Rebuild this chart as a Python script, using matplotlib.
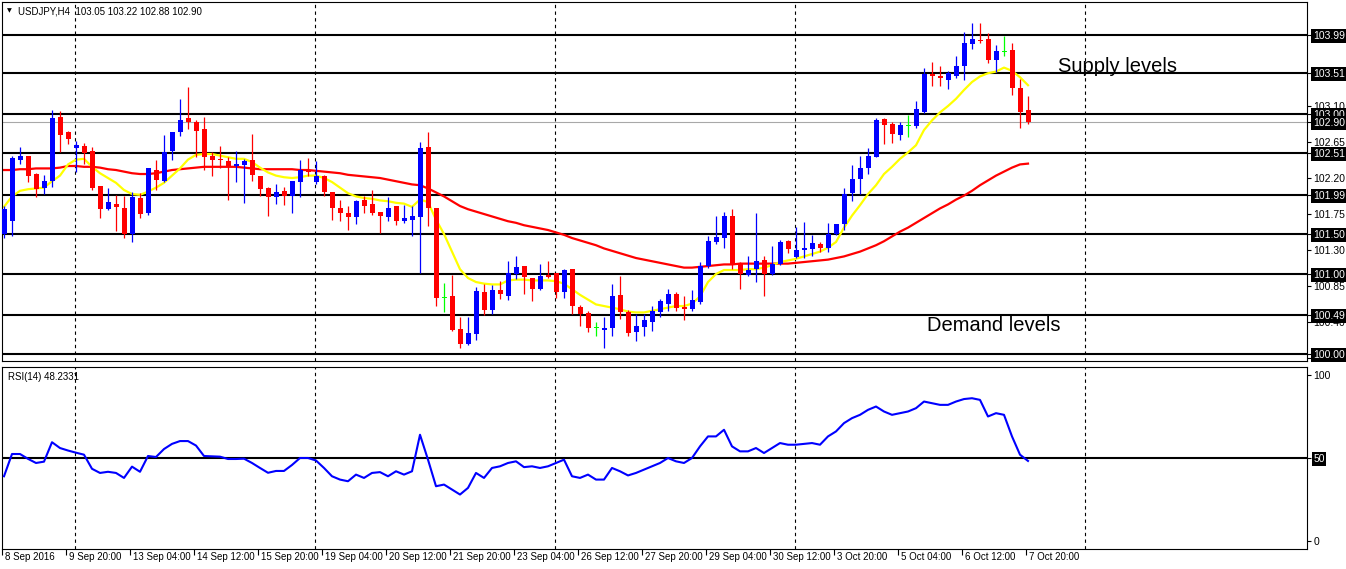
import numpy as np
import matplotlib
matplotlib.use("Agg")
import matplotlib.pyplot as plt
from matplotlib.transforms import ScaledTranslation

plt.rcParams['font.family'] = ['Liberation Sans', 'DejaVu Sans']

# USDJPY H4 candles, 8 Sep 2016 12:00 .. 7 Oct 2016 20:00
opens = [101.50, 101.66, 102.43, 102.47, 102.25, 102.08, 102.16, 102.96, 102.77, 102.58,
         102.60, 102.54, 102.10, 101.81, 101.88, 101.83, 101.50, 101.95, 101.76, 102.30,
         102.16, 102.54, 102.78, 102.95, 102.90, 102.81, 102.47, 102.43, 102.41, 102.35,
         102.36, 102.43, 102.23, 102.07, 101.96, 102.04, 101.98, 102.15, 102.29, 102.15,
         102.22, 102.02, 101.82, 101.76, 101.71, 101.92, 101.87, 101.77, 101.71, 101.85,
         101.66, 101.68, 101.71, 102.59, 101.82, 100.70, 100.72, 100.31, 100.12, 100.25,
         100.78, 100.55, 100.80, 100.73, 101.00, 101.10, 100.95, 100.81, 100.99, 101.01,
         100.78, 101.06, 100.59, 100.51, 100.32, 100.30, 100.32, 100.74, 100.53, 100.27,
         100.34, 100.40, 100.52, 100.63, 100.75, 100.59, 100.56, 100.65, 101.10, 101.40,
         101.45, 101.72, 101.12, 100.99, 101.06, 101.17, 101.00, 101.13, 101.41, 101.21,
         101.30, 101.31, 101.38, 101.32, 101.50, 101.62, 102.01, 102.19, 102.32, 102.46,
         102.94, 102.87, 102.74, 102.85, 102.85, 103.03, 103.50, 103.48, 103.43, 103.48,
         103.60, 103.87, 103.93, 103.94, 103.68, 103.78, 103.80, 103.33, 103.05]
highs = [101.85, 102.47, 102.59, 102.47, 102.26, 102.24, 103.05, 103.04, 102.79, 102.66,
         102.64, 102.59, 102.10, 102.07, 101.99, 101.98, 102.02, 102.01, 102.33, 102.42,
         102.74, 102.77, 103.19, 103.34, 102.92, 102.96, 102.53, 102.60, 102.46, 102.54,
         102.44, 102.75, 102.23, 102.09, 102.12, 102.09, 102.16, 102.42, 102.45, 102.41,
         102.24, 102.02, 101.92, 101.85, 101.93, 101.98, 102.05, 101.77, 101.96, 101.85,
         101.86, 101.85, 102.65, 102.78, 101.82, 100.89, 100.99, 100.46, 100.46, 100.84,
         100.87, 100.86, 100.91, 101.16, 101.23, 101.10, 100.95, 101.12, 101.16, 101.01,
         101.06, 101.06, 100.61, 100.54, 100.40, 100.46, 100.88, 100.98, 100.55, 100.50,
         100.50, 100.60, 100.69, 100.81, 100.77, 100.72, 100.80, 101.15, 101.47, 101.73,
         101.77, 101.81, 101.15, 101.23, 101.76, 101.22, 101.35, 101.43, 101.43, 101.59,
         101.65, 101.49, 101.40, 101.64, 101.63, 102.07, 102.36, 102.47, 102.57, 102.95,
         102.95, 102.90, 102.90, 102.99, 103.16, 103.58, 103.65, 103.60, 103.54, 103.73,
         104.02, 104.14, 104.14, 104.01, 103.86, 103.98, 103.89, 103.44, 103.22]
lows = [101.45, 101.47, 102.37, 102.15, 101.96, 102.00, 102.09, 102.52, 102.63, 102.28,
        102.37, 102.05, 101.70, 101.80, 101.54, 101.45, 101.40, 101.70, 101.74, 102.05,
        102.15, 102.42, 102.72, 102.81, 102.46, 102.30, 102.23, 102.32, 101.93, 102.15,
        101.89, 102.16, 101.97, 101.72, 101.88, 101.86, 101.76, 101.96, 102.23, 102.12,
        101.98, 101.68, 101.66, 101.55, 101.62, 101.76, 101.74, 101.51, 101.66, 101.61,
        101.64, 101.48, 101.01, 101.60, 100.60, 100.53, 100.29, 100.08, 100.11, 100.17,
        100.49, 100.50, 100.69, 100.68, 100.94, 100.75, 100.66, 100.80, 100.95, 100.70,
        100.70, 100.50, 100.35, 100.27, 100.23, 100.08, 100.22, 100.44, 100.22, 100.16,
        100.22, 100.29, 100.46, 100.54, 100.54, 100.43, 100.54, 100.62, 101.07, 101.37,
        101.32, 101.06, 100.81, 100.98, 100.90, 100.73, 100.99, 101.11, 101.26, 101.20,
        101.20, 101.23, 101.27, 101.28, 101.49, 101.55, 101.91, 102.00, 102.25, 102.46,
        102.63, 102.64, 102.68, 102.71, 102.82, 103.01, 103.35, 103.35, 103.31, 103.45,
        103.43, 103.81, 103.89, 103.64, 103.52, 103.73, 103.24, 102.83, 102.88]
closes = [101.81, 102.45, 102.47, 102.23, 102.06, 102.16, 102.95, 102.74, 102.69, 102.61,
          102.51, 102.07, 101.81, 101.90, 101.84, 101.50, 101.96, 101.75, 102.32, 102.18,
          102.53, 102.77, 102.93, 102.90, 102.79, 102.46, 102.42, 102.42, 102.35, 102.38,
          102.41, 102.24, 102.06, 101.96, 102.03, 101.98, 102.16, 102.30, 102.27, 102.22,
          102.03, 101.83, 101.76, 101.71, 101.91, 101.85, 101.76, 101.73, 101.83, 101.66,
          101.70, 101.72, 102.58, 101.82, 100.70, 100.70, 100.30, 100.13, 100.26, 100.79,
          100.55, 100.80, 100.75, 101.01, 101.09, 100.96, 100.81, 100.97, 100.96, 100.77,
          101.05, 100.60, 100.50, 100.32, 100.32, 100.32, 100.73, 100.53, 100.26, 100.35,
          100.42, 100.54, 100.66, 100.75, 100.57, 100.56, 100.67, 101.10, 101.41, 101.46,
          101.72, 101.11, 101.00, 101.05, 101.16, 101.00, 101.13, 101.40, 101.31, 101.30,
          101.33, 101.39, 101.33, 101.50, 101.62, 102.00, 102.19, 102.32, 102.47, 102.93,
          102.86, 102.75, 102.86, 102.85, 103.06, 103.50, 103.47, 103.45, 103.51, 103.60,
          103.89, 103.94, 103.91, 103.68, 103.79, 103.78, 103.32, 103.02, 102.90]

# moving averages as drawn on the chart (yellow fast, red slow)
ma_fast = [101.84, 101.97, 102.04, 102.06, 102.07, 102.08, 102.16, 102.23, 102.37, 102.43,
           102.44, 102.34, 102.26, 102.20, 102.14, 102.05, 102.00, 101.99, 102.03, 102.08,
           102.14, 102.23, 102.32, 102.43, 102.49, 102.50, 102.50, 102.48, 102.46, 102.44,
           102.44, 102.40, 102.33, 102.27, 102.23, 102.21, 102.20, 102.21, 102.23, 102.23,
           102.20, 102.15, 102.08, 102.01, 101.97, 101.95, 101.94, 101.92, 101.91, 101.89,
           101.88, 101.84, 101.93, 101.90, 101.68, 101.50, 101.28, 101.06, 100.95, 100.90,
           100.88, 100.87, 100.87, 100.92, 100.93, 100.93, 100.92, 100.92, 100.92, 100.91,
           100.88, 100.81, 100.74, 100.68, 100.62, 100.60, 100.58, 100.56, 100.53, 100.52,
           100.52, 100.54, 100.56, 100.58, 100.60, 100.60, 100.63, 100.72, 100.90, 101.00,
           101.05, 101.05, 101.05, 101.06, 101.06, 101.08, 101.11, 101.15, 101.17, 101.19,
           101.22, 101.25, 101.28, 101.33, 101.40, 101.58, 101.73, 101.86, 102.00, 102.11,
           102.25, 102.34, 102.44, 102.52, 102.61, 102.80, 102.92, 103.02, 103.10, 103.19,
           103.30, 103.40, 103.47, 103.51, 103.53, 103.58, 103.54, 103.46, 103.36]
ma_slow = [102.30, 102.30, 102.31, 102.31, 102.32, 102.32, 102.32, 102.33, 102.35, 102.35,
           102.34, 102.34, 102.33, 102.31, 102.30, 102.28, 102.26, 102.25, 102.25, 102.26,
           102.28, 102.30, 102.31, 102.32, 102.33, 102.34, 102.34, 102.34, 102.34, 102.34,
           102.33, 102.32, 102.31, 102.31, 102.31, 102.31, 102.31, 102.30, 102.30, 102.29,
           102.28, 102.27, 102.26, 102.24, 102.23, 102.22, 102.21, 102.20, 102.18, 102.16,
           102.14, 102.12, 102.11, 102.07, 102.02, 101.97, 101.91, 101.85, 101.81, 101.78,
           101.75, 101.72, 101.69, 101.66, 101.64, 101.61, 101.59, 101.57, 101.55, 101.52,
           101.49, 101.45, 101.42, 101.39, 101.36, 101.32, 101.29, 101.26, 101.23, 101.20,
           101.18, 101.16, 101.14, 101.12, 101.10, 101.08, 101.08, 101.09, 101.10, 101.11,
           101.12, 101.12, 101.13, 101.13, 101.13, 101.13, 101.13, 101.13, 101.13, 101.14,
           101.15, 101.16, 101.17, 101.18, 101.20, 101.22, 101.25, 101.28, 101.32, 101.36,
           101.41, 101.47, 101.53, 101.58, 101.64, 101.70, 101.76, 101.82, 101.87, 101.93,
           101.98, 102.04, 102.11, 102.17, 102.23, 102.28, 102.33, 102.37, 102.38]

rsi = [39.0, 52.4, 52.4, 49.5, 47.0, 47.8, 59.5, 56.0, 54.5, 53.2,
       52.0, 43.5, 41.0, 41.7, 41.0, 38.0, 44.8, 41.7, 51.2, 50.6,
       55.4, 58.5, 60.2, 60.2, 57.5, 51.2, 51.0, 50.8, 49.4, 49.4,
       49.6, 47.0, 44.0, 41.1, 42.2, 42.2, 45.8, 50.0, 50.0, 48.5,
       44.0, 39.0, 37.0, 36.0, 40.0, 38.0, 41.0, 41.5, 39.0, 42.0,
       40.0, 42.0, 64.0, 49.0, 33.0, 34.0, 31.0, 28.0, 32.0, 41.0,
       38.0, 44.0, 45.0, 47.0, 48.0, 44.5, 45.0, 44.0, 45.0, 47.0,
       49.0, 39.0, 38.0, 40.0, 37.0, 37.0, 44.0, 42.0, 39.5, 41.0,
       43.0, 45.0, 47.0, 50.0, 48.0, 47.0, 50.0, 57.0, 63.0, 63.0,
       67.0, 57.0, 54.0, 54.0, 56.0, 53.0, 56.0, 59.0, 58.0, 58.0,
       58.5, 59.0, 58.0, 63.0, 66.0, 71.0, 74.0, 76.0, 79.0, 81.0,
       78.0, 76.0, 77.0, 78.0, 80.0, 84.0, 83.0, 82.0, 82.0, 84.0,
       85.5, 86.0, 85.0, 75.0, 77.0, 76.0, 63.0, 52.0, 48.2331]

levels = [100.00, 100.49, 101.00, 101.50, 101.99, 102.51, 103.00, 103.51, 103.99]
bid = 102.90
price_ticks = [99.95, 100.40, 100.85, 101.30, 101.75, 102.20, 102.65, 103.10]
date_ticks = [0, 8, 16, 24, 32, 40, 48, 56, 64, 72, 80, 88, 96, 104, 112, 120, 128]
date_labels = ['8 Sep 2016', '9 Sep 20:00', '13 Sep 04:00', '14 Sep 12:00', '15 Sep 20:00',
               '19 Sep 04:00', '20 Sep 12:00', '21 Sep 20:00', '23 Sep 04:00', '26 Sep 12:00',
               '27 Sep 20:00', '29 Sep 04:00', '30 Sep 12:00', '3 Oct 20:00', '5 Oct 04:00',
               '6 Oct 12:00', '7 Oct 20:00']
grid_bars = [8.875, 38.875, 68.875, 98.875, 135.125]

BLUE, RED, LIME, YEL = '#0000ff', '#ff0000', '#00ff00', '#ffff00'
W, H = 1346, 569
fig = plt.figure(figsize=(W / 100, H / 100), dpi=100)
fig.patch.set_facecolor('white')
ax = fig.add_axes([2 / W, 1 - 361 / H, 1305 / W, 359 / H])
ax2 = fig.add_axes([2 / W, 1 - 549 / H, 1305 / W, 182 / H])

x = np.arange(len(closes))
o, h, l, c = map(np.array, (opens, highs, lows, closes))
cols = np.where(c > o, BLUE, np.where(c < o, RED, LIME))

# horizontal supply/demand lines
for lv in levels:
    ax.axhline(lv, color='black', lw=1.5, zorder=1)
ax.axhline(bid, color='#a8a8a8', lw=0.8, zorder=1)
for g in grid_bars:
    for a in (ax, ax2):
        a.axvline(g, color='black', lw=0.8, ls=(0, (3, 3)), zorder=1)

ax.plot(x, ma_slow, color=RED, lw=1.6, zorder=2)
ax.plot(x, ma_fast, color=YEL, lw=1.6, zorder=2)

bw = 0.625
ax.vlines(x, l, h, colors=cols, lw=0.9, zorder=3)
body = np.maximum(np.abs(c - o), 0.012)
ax.bar(x, body, bw, bottom=np.minimum(o, c), color=cols, lw=0, zorder=4)

ax.set_xlim(-0.25, 162.875)
ax.set_ylim(99.913, 104.40)
ax.set_xticks([])
ax.yaxis.tick_right()
ax.set_yticks(price_ticks + levels + [bid])
ax.set_yticklabels([f'{v:.2f}' for v in price_ticks + levels + [bid]])
ax.tick_params(axis='y', direction='out', length=3, width=0.8, pad=1.5, labelsize=7.5)
for lab in ax.get_yticklabels()[len(price_ticks):]:
    lab.set_color('white')
    lab.set_bbox(dict(boxstyle='square,pad=0.2', fc='black', ec='none'))

ax.text(131.75, 103.59, 'Supply levels', fontsize=14.5, va='center', ha='left')
ax.text(115.4, 100.36, 'Demand levels', fontsize=14.5, va='center', ha='left')

fig.text(7 / W, 1 - 11 / H, '\u25bc', fontsize=4.5, family='DejaVu Sans', va='center')
fig.text(18 / W, 1 - 11 / H,
         f'USDJPY,H4  {opens[-1]:.2f} {highs[-1]:.2f} {lows[-1]:.2f} {closes[-1]:.2f}',
         fontsize=7, va='center')

# RSI panel
ax2.axhline(50, color='black', lw=1.5, zorder=1)
ax2.plot(x, rsi, color=BLUE, lw=1.5, zorder=3)
ax2.set_xlim(-0.25, 162.875)
ax2.set_ylim(-4.8, 104.8)
ax2.yaxis.tick_right()
ax2.set_yticks([100, 0, 50])
ax2.set_yticklabels(['100', '0', '50'])
ax2.tick_params(axis='y', direction='out', length=3, width=0.8, pad=1.5, labelsize=7.5)
lab50 = ax2.get_yticklabels()[2]
lab50.set_color('white')
lab50.set_bbox(dict(boxstyle='square,pad=0.15', fc='black', ec='none'))
ax2.text(0.5, 98.5, f'RSI(14) {rsi[-1]:.4f}', fontsize=7, va='center', ha='left')

ax2.set_xticks([t - 0.25 for t in date_ticks])
ax2.set_xticklabels(date_labels)
ax2.tick_params(axis='x', direction='out', length=4.5, width=0.8, pad=-2, labelsize=7)
shift = ScaledTranslation(2 / 72, 0, fig.dpi_scale_trans)
for lab in ax2.get_xticklabels():
    lab.set_ha('left')
    lab.set_transform(lab.get_transform() + shift)

for a in (ax, ax2):
    for s in a.spines.values():
        s.set_color('black')
        s.set_linewidth(0.8)

fig.savefig('out.png', dpi=100)
